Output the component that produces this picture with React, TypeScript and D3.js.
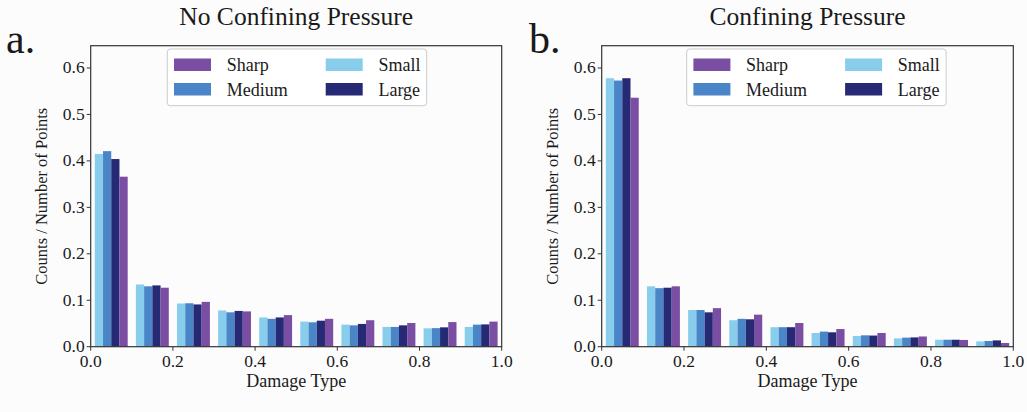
import React from "react";
import * as d3 from "d3";

const binStarts = [0, 0.1, 0.2, 0.3, 0.4, 0.5, 0.6, 0.7, 0.8, 0.9];
const seriesNames = ["Small", "Medium", "Large", "Sharp"];
const seriesColors = ["#88cdec", "#4a86c7", "#262a74", "#7a4fa3"];
const xTicks = [0, 0.2, 0.4, 0.6, 0.8, 1.0];
const yTicks = [0, 0.1, 0.2, 0.3, 0.4, 0.5, 0.6];

// Panel a: No Confining Pressure
const noCpSmall = [0.415, 0.134, 0.093, 0.078, 0.063, 0.054, 0.0475, 0.0425, 0.0395, 0.0425];
const noCpMedium = [0.421, 0.130, 0.0935, 0.074, 0.060, 0.0525, 0.046, 0.0425, 0.040, 0.0475];
const noCpLarge = [0.404, 0.132, 0.091, 0.077, 0.063, 0.056, 0.049, 0.046, 0.0417, 0.048];
const noCpSharp = [0.366, 0.127, 0.0965, 0.076, 0.068, 0.060, 0.057, 0.051, 0.053, 0.054];

// Panel b: Confining Pressure
const cpSmall = [0.578, 0.130, 0.079, 0.057, 0.042, 0.0295, 0.023, 0.018, 0.015, 0.0115];
const cpMedium = [0.573, 0.126, 0.079, 0.060, 0.042, 0.0325, 0.0245, 0.0195, 0.015, 0.0123];
const cpLarge = [0.578, 0.127, 0.074, 0.059, 0.042, 0.031, 0.024, 0.020, 0.015, 0.0136];
const cpSharp = [0.536, 0.130, 0.083, 0.069, 0.051, 0.038, 0.0295, 0.022, 0.0145, 0.008];

// legend layout: series index per cell, column-major like matplotlib ncol=2
const legendOrder = [3, 1, 0, 2];

const FONT = "'Liberation Serif', 'Times New Roman', serif";
const Y_MAX = 0.648;

type PanelProps = {
  x0: number;
  x1: number;
  title: string;
  letter: string;
  letterX: number;
  legendX: number;
  data: number[][];
};

function Panel({ x0, x1, title, letter, letterX, legendX, data }: PanelProps) {
  const y0 = 346.7;
  const yTop = 45.7;
  const x = d3.scaleLinear().domain([0, 1]).range([x0, x1]);
  const y = d3.scaleLinear().domain([0, Y_MAX]).range([y0, yTop]);
  const binW = 0.1;
  const barW = (binW * 0.8) / 4;
  const cx = (x0 + x1) / 2;
  const lx = legendX;
  const ly = 49;
  return (
    <g>
      <text x={cx} y={25} textAnchor="middle" fontFamily={FONT} fontSize={25.5} fill="#1a1a1a">
        {title}
      </text>
      <text x={letterX} y={53} fontFamily={FONT} fontSize={42} fill="#1a1a1a">
        {letter}
      </text>
      {data.map((vals, si) =>
        vals.map((v, bi) => {
          const start = binStarts[bi] + binW * 0.1 + si * barW;
          return (
            <rect
              key={`${si}-${bi}`}
              x={x(start)}
              y={y(v)}
              width={x(start + barW) - x(start)}
              height={y0 - y(v)}
              fill={seriesColors[si]}
            />
          );
        })
      )}
      <rect x={x0} y={yTop} width={x1 - x0} height={y0 - yTop} fill="none" stroke="#333" strokeWidth={1.2} />
      {xTicks.map((t) => (
        <g key={`xt${t}`}>
          <line x1={x(t)} x2={x(t)} y1={y0} y2={y0 + 4} stroke="#333" strokeWidth={1} />
          <text x={x(t)} y={y0 + 20.5} textAnchor="middle" fontFamily={FONT} fontSize={17.5} fill="#1a1a1a">
            {t.toFixed(1)}
          </text>
        </g>
      ))}
      {yTicks.map((t) => (
        <g key={`yt${t}`}>
          <line x1={x0 - 4} x2={x0} y1={y(t)} y2={y(t)} stroke="#333" strokeWidth={1} />
          <text x={x0 - 6} y={y(t) + 5.5} textAnchor="end" fontFamily={FONT} fontSize={17.5} fill="#1a1a1a">
            {t.toFixed(1)}
          </text>
        </g>
      ))}
      <text x={cx} y={387} textAnchor="middle" fontFamily={FONT} fontSize={18} fill="#1a1a1a">
        Damage Type
      </text>
      <text
        transform={`translate(${x0 - 44},${(y0 + yTop) / 2}) rotate(-90)`}
        textAnchor="middle"
        fontFamily={FONT}
        fontSize={16.5}
        fill="#1a1a1a"
      >
        Counts / Number of Points
      </text>
      <rect x={lx} y={ly} width={259.4} height={56.7} rx={3} fill="#ffffff" fillOpacity={0.85} stroke="#cccccc" strokeWidth={1} />
      {legendOrder.map((si, k) => {
        const col = Math.floor(k / 2);
        const row = k % 2;
        const px = lx + 6.7 + col * 151.7;
        const py = ly + 9.5 + row * 24.5;
        return (
          <g key={`lg${si}`}>
            <rect x={px} y={py} width={37} height={12.5} fill={seriesColors[si]} />
            <text x={px + 52.7} y={py + 12.5} fontFamily={FONT} fontSize={18} fill="#1a1a1a">
              {seriesNames[si]}
            </text>
          </g>
        );
      })}
    </g>
  );
}

export default function App() {
  return (
    <svg
      width={1027}
      height={412}
      style={{ position: "absolute", left: 0, top: 0, background: "#fcfcfc" }}
    >
      <rect x={0} y={0} width={1027} height={412} fill="#fcfcfc" />
      <Panel
        x0={90.7}
        x1={501.7}
        title="No Confining Pressure"
        letter="a."
        letterX={6}
        legendX={167.3}
        data={[noCpSmall, noCpMedium, noCpLarge, noCpSharp]}
      />
      <Panel
        x0={601.7}
        x1={1013.3}
        title="Confining Pressure"
        letter="b."
        letterX={529}
        legendX={686.7}
        data={[cpSmall, cpMedium, cpLarge, cpSharp]}
      />
    </svg>
  );
}
